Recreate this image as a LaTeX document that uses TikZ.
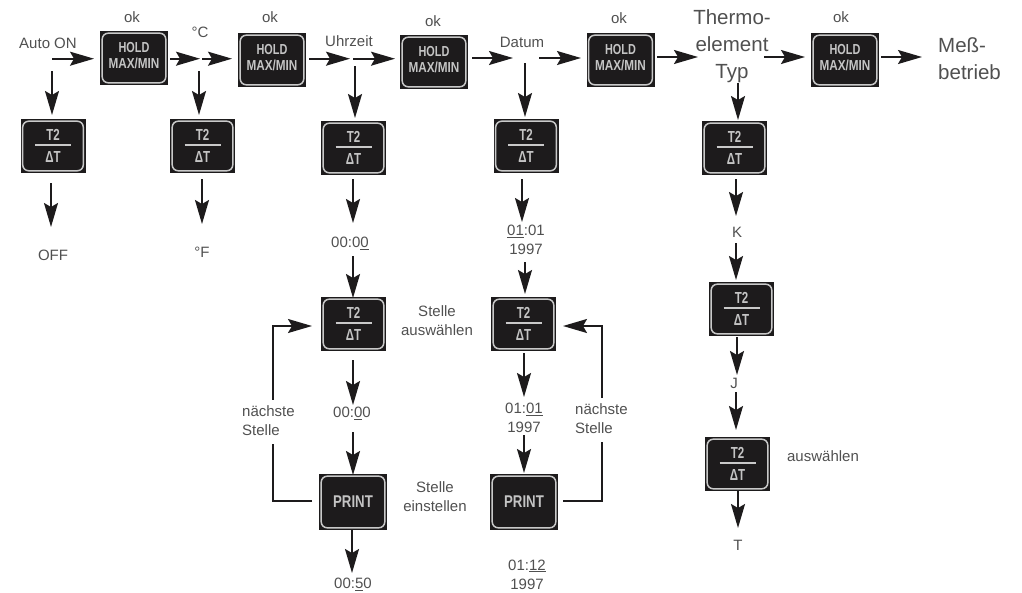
\documentclass[tikz,border=0pt]{standalone}
\usepackage{fontspec}
\usepackage{graphicx}
\setmainfont{Liberation Sans}
\usetikzlibrary{arrows.meta}
\definecolor{btnblack}{HTML}{1D1B1C}
\definecolor{btnline}{HTML}{C9C9C9}
\definecolor{btntext}{HTML}{C4C4C4}
\definecolor{lbl}{HTML}{505050}
\definecolor{arrowc}{HTML}{1D1B1C}
\newcommand{\HoldTxt}{\fontsize{14.5}{14.5}\selectfont\bfseries\raisebox{-.5pt}{\begin{tabular}{@{}c@{}}\scalebox{.75}[1]{HOLD}\\[1pt]\scalebox{.81}[1]{MAX/MIN}\end{tabular}}}
\newcommand{\TTxt}{\fontsize{16}{16}\selectfont\bfseries\begin{tabular}{@{}c@{}}\raisebox{-4pt}{\scalebox{.72}[1]{T2}}\\[-3pt]{\color{btnline}\rule[3.6pt]{36pt}{1.6pt}}\\[-3pt]\scalebox{.72}[1]{ΔT}\end{tabular}}
\newcommand{\PrintTxt}{\fontsize{17}{17}\selectfont\bfseries\scalebox{.78}[1]{PRINT}}
\newcommand{\conn}[6]{\draw[arr] ([shift={(#2,#3)}]#1.center) -- ([shift={(#5,#6)}]#4.center);}
\tikzset{
  x=1pt,y=-1pt,
  btn/.style={rectangle,fill=btnblack,text=btntext,inner sep=0pt,align=center,
    path picture={\draw[btnline,line width=1.5pt,rounded corners=6pt]
      ([shift={(2.2pt,-2.2pt)}]path picture bounding box.north west) rectangle
      ([shift={(-2.2pt,2.2pt)}]path picture bounding box.south east);}},
  holdkey/.style={btn,minimum width=68pt,minimum height=54pt},
  tkey/.style={btn,minimum width=65pt,minimum height=54pt},
  printkey/.style={btn,minimum width=68pt,minimum height=56pt},
  txt/.style={text=lbl,inner sep=0pt,align=center,font=\fontsize{15}{19}\selectfont},
  bigtxt/.style={text=lbl,inner sep=0pt,align=center,font=\fontsize{20.5}{26.7}\selectfont},
  arr/.style={draw=arrowc,line width=1.7pt,-{Stealth[length=24pt,width=14pt,inset=4pt]}},
}
\begin{document}
\begin{tikzpicture}
\useasboundingbox (0,0) rectangle (1022,592);
% top row keys
\node[holdkey] (H1) at (134,58) {\HoldTxt};
\node[holdkey] (H2) at (272,60) {\HoldTxt};
\node[holdkey] (H3) at (434,62) {\HoldTxt};
\node[holdkey] (H4) at (620.5,60) {\HoldTxt};
\node[holdkey] (H5) at (845,60) {\HoldTxt};
% T2 keys
\node[tkey] (TA) at (53,146) {\TTxt};
\node[tkey] (TB) at (202.5,146) {\TTxt};
\node[tkey] (TC) at (353.5,148) {\TTxt};
\node[tkey] (TD) at (526,146) {\TTxt};
\node[tkey] (TE) at (734.5,148) {\TTxt};
\node[tkey] (TF) at (741.5,309) {\TTxt};
\node[tkey] (TG) at (737.5,464) {\TTxt};
\node[tkey] (TH) at (353.5,324) {\TTxt};
\node[tkey] (TI) at (523.5,324) {\TTxt};
\node[printkey] (P1) at (353,502) {\PrintTxt};
\node[printkey] (P2) at (524,502) {\PrintTxt};
% labels
\node[txt] (ok1) at (132,17) {ok};
\node[txt] (ok2) at (270,17) {ok};
\node[txt] (ok3) at (433,21) {ok};
\node[txt] (ok4) at (619,18) {ok};
\node[txt] (ok5) at (841,17.5) {ok};
\node[txt] (auto) at (48,43) {Auto ON};
\node[txt] (degC) at (200,32) {°C};
\node[txt] (uhr) at (349,41) {Uhrzeit};
\node[txt] (dat) at (522,42) {Datum};
\node[bigtxt] (thermo) at (732,46) {Thermo-\\element\\Typ};
\node[bigtxt,anchor=west] (mess) at (938,61) {\begin{tabular}{@{}l@{}}Meß-\\betrieb\end{tabular}};
\node[txt] (off) at (53,255) {OFF};
\node[txt] (degF) at (202,252) {°F};
\node[txt] (t1) at (350,243) {00:0\underline{0}};
\node[txt] (d1) at (526,240) {\underline{01}:01\\1997};
\node[txt] (t2) at (352,413) {00:\underline{0}0};
\node[txt] (d2) at (524,418) {01:\underline{01}\\1997};
\node[txt] (t3) at (353,584) {00:\underline{5}0};
\node[txt] (d3) at (527,574.5) {01:\underline{12}\\1997};
\node[txt] (sa) at (437,320.5) {Stelle\\auswählen};
\node[txt] (se) at (435,496.5) {Stelle\\einstellen};
\node[txt] (K) at (737,232) {K};
\node[txt] (J) at (734,383) {J};
\node[txt] (T) at (738,545) {T};
\node[txt] (aw) at (823,456) {auswählen};
% connectors
\conn{auto}{4}{15.7}{H1}{-40}{.7}
\conn{auto}{4}{28}{TA}{-1}{-31}
\conn{TA}{-2}{37}{off}{-2}{-28}
\conn{H1}{36}{.7}{degC}{0}{26.7}
\conn{degC}{2}{26.7}{H2}{-40}{-1.3}
\conn{degC}{-1}{39}{TB}{-3.5}{-31}
\conn{TB}{-.5}{33}{degF}{0}{-28}
\conn{H2}{37}{-1.3}{uhr}{1}{17.7}
\conn{uhr}{4}{17.7}{H3}{-39}{-3.3}
\conn{uhr}{6}{25}{TC}{1.5}{-30}
\conn{H3}{38}{-4}{dat}{-9}{16}
\conn{dat}{17}{16}{H4}{-39.5}{-2}
\conn{dat}{3}{21}{TD}{-1}{-29}
\conn{H4}{36.5}{-3}{thermo}{-34}{11}
\conn{thermo}{32}{11}{H5}{-40}{-3}
\draw[arr] ([shift={(36,-3)}]H5.center) -- ([shift={(-16,-4)}]mess.west);
\conn{thermo}{6}{37}{TE}{3.5}{-28}
\conn{TE}{1.5}{31}{K}{-1}{-16}
\conn{K}{-1}{11}{TF}{-5.5}{-29}
\conn{TF}{-4.5}{28}{J}{3}{-8}
\conn{J}{2}{9}{TG}{-1.5}{-34}
\conn{TG}{.5}{27}{T}{0}{-17}
\conn{TC}{-.5}{31}{t1}{3}{-20}
\conn{t1}{3}{13}{TH}{-.5}{-26}
\conn{TD}{-4}{33}{d1}{-4}{-18}
\conn{d1}{-1}{22}{TI}{1.5}{-30}
\conn{TH}{-.5}{36}{t2}{1}{-8}
\conn{t2}{1}{19}{P1}{0}{-27}
\conn{TI}{.5}{29}{d2}{0}{-21}
\conn{d2}{0}{17}{P2}{0}{-29}
\conn{P1}{-1}{28}{t3}{-1}{-11}
% feedback loops
\draw[arr] ([shift={(-41,-1)}]P1.center) -- ++(-39,0) |- ([shift={(-41.5,2)}]TH.center);
\draw[arr] ([shift={(39,-1)}]P2.center) -- ++(39,0) |- ([shift={(39.5,2)}]TI.center);
\node[txt,fill=white,anchor=west,inner ysep=3pt,inner xsep=1pt] (n1) at (241,422) {\begin{tabular}{@{}l@{}}nächste\\Stelle\end{tabular}};
\node[txt,fill=white,anchor=west,inner ysep=3pt,inner xsep=1pt] (n2) at (574,420) {\begin{tabular}{@{}l@{}}nächste\\Stelle\end{tabular}};
\end{tikzpicture}
\end{document}
